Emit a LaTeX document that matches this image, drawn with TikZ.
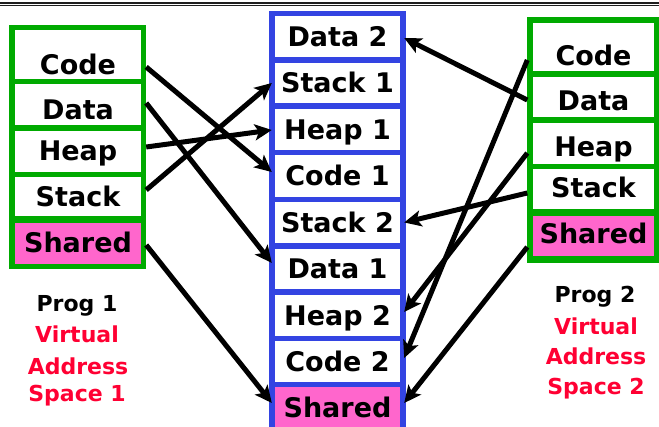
\documentclass[tikz,border=0pt]{standalone}
\usepackage{fontspec}
\setmainfont{DejaVu Sans}
\usetikzlibrary{arrows.meta}
\definecolor{frgreen}{RGB}{0,170,0}
\definecolor{frblue}{RGB}{51,68,226}
\definecolor{shpink}{RGB}{255,102,204}
\definecolor{lblred}{RGB}{255,0,51}
\begin{document}
\begin{tikzpicture}[x=1pt,y=-1pt,
  frame/.style={draw=none, inner sep=0pt, fill=#1},
  cell/.style={fill=white, draw=none, inner sep=0pt,
    font=\fontsize{27}{27}\selectfont\bfseries,
    text height=19.7pt, text depth=0pt, minimum height=41},
  lcell/.style={cell, minimum width=126},
  mcell/.style={cell, minimum width=125},
  rcell/.style={cell, minimum width=121},
  shared/.style={fill=shpink},
  lbl/.style={anchor=base, inner sep=0pt, font=\fontsize{22}{22}\selectfont\bfseries},
  arr/.style={line width=5pt, -{Stealth[length=17pt,width=16pt,inset=4pt]}},
  rule/.style={draw={rgb,255:red,30;green,30;blue,30}}
]
\useasboundingbox (0,0) rectangle (659,427);
\clip (0,0) rectangle (659,427);
\fill[white] (0,0) rectangle (659,427);
\draw[rule, line width=1.3pt] (0,3) -- (659,3);
\draw[rule, line width=0.9pt] (0,5.6) -- (659,5.6);

% frames
\node[frame=frgreen, minimum width=137, minimum height=244] (LF) at (77.5,147) {};
\node[frame=frblue, minimum width=137, minimum height=429] (MF) at (337.5,225.5) {};
\node[frame=frgreen, minimum width=132, minimum height=246] (RF) at (593,140) {};

% left cells
\node[lcell, minimum height=49, text height=41pt] (LCode) at (78,54.5) {Code};
\node[lcell, text height=30pt] (LData) at (78,104.5) {Data};
\node[lcell, text height=19pt] (LHeap) at (78,151.5) {Heap};
\node[lcell, minimum height=39, text height=21pt] (LStack) at (78,196.5) {Stack};
\node[lcell, shared, text height=17.4pt] (LShared) at (78,243.5) {Shared};

% middle cells
\node[mcell] (Data2) at (337.5,36.5) {Data 2};
\node[mcell, minimum height=40] (Stack1) at (337.5,83) {Stack 1};
\node[mcell] (Heap1) at (337.5,129.5) {Heap 1};
\node[mcell, minimum height=42] (Code1) at (337.5,176) {Code 1};
\node[mcell] (Stack2) at (337.5,222.5) {Stack 2};
\node[mcell, minimum height=40] (Data1) at (337.5,269) {Data 1};
\node[mcell] (Heap2) at (337.5,315.5) {Heap 2};
\node[mcell] (Code2) at (337.5,361.5) {Code 2};
\node[mcell, shared] (MShared) at (337.5,407.5) {Shared};

% right cells
\node[rcell, minimum height=48, text height=37.4pt] (RCode) at (593.5,47) {Code};
\node[rcell, minimum height=40, text height=27.4pt] (RData) at (593.5,97) {Data};
\node[rcell, text height=26pt] (RHeap) at (593.5,143.5) {Heap};
\node[rcell, minimum height=40, text height=18pt] (RStack) at (593.5,189) {Stack};
\node[rcell, shared, minimum height=40, text height=16pt] (RShared) at (593.5,236) {Shared};

% connectors from program 1
\draw[arr] ([shift={(5,12.5)}]LCode.east) -- ([shift={(-3,-4)}]Code1.west);
\draw[arr] ([shift={(5,-1.5)}]LData.east) -- ([shift={(-3,-6)}]Data1.west);
\draw[arr] ([shift={(5,-4.5)}]LHeap.east) -- ([shift={(-3,0.5)}]Heap1.west);
\draw[arr] ([shift={(5,-6.5)}]LStack.east) -- ([shift={(-3,0)}]Stack1.west);
\draw[arr] ([shift={(5,1.5)}]LShared.east) -- ([shift={(-3,-4.5)}]MShared.west);

% connectors from program 2
\draw[arr] ([shift={(-5.5,13)}]RCode.west) -- ([shift={(4,-3.5)}]Code2.east);
\draw[arr] ([shift={(-5.5,3)}]RData.west) -- ([shift={(4,1.5)}]Data2.east);
\draw[arr] ([shift={(-5.5,9.5)}]RHeap.west) -- ([shift={(4,-3.5)}]Heap2.east);
\draw[arr] ([shift={(-5.5,4)}]RStack.west) -- ([shift={(4,0)}]Stack2.east);
\draw[arr] ([shift={(-5.5,11)}]RShared.west) -- ([shift={(4,-4.5)}]MShared.east);

% labels
\node[lbl] (P1) at (77,311.7) {Prog 1};
\node[lbl, text=lblred] (V1) at (77,343) {Virtual};
\node[lbl, text=lblred] (A1) at (78,375) {Address};
\node[lbl, text=lblred] (S1) at (77,401.7) {Space 1};
\node[lbl] (P2) at (595,303) {Prog 2};
\node[lbl, text=lblred] (V2) at (596,335) {Virtual};
\node[lbl, text=lblred] (A2) at (596,365) {Address};
\node[lbl, text=lblred] (S2) at (596,395) {Space 2};
\end{tikzpicture}
\end{document}
